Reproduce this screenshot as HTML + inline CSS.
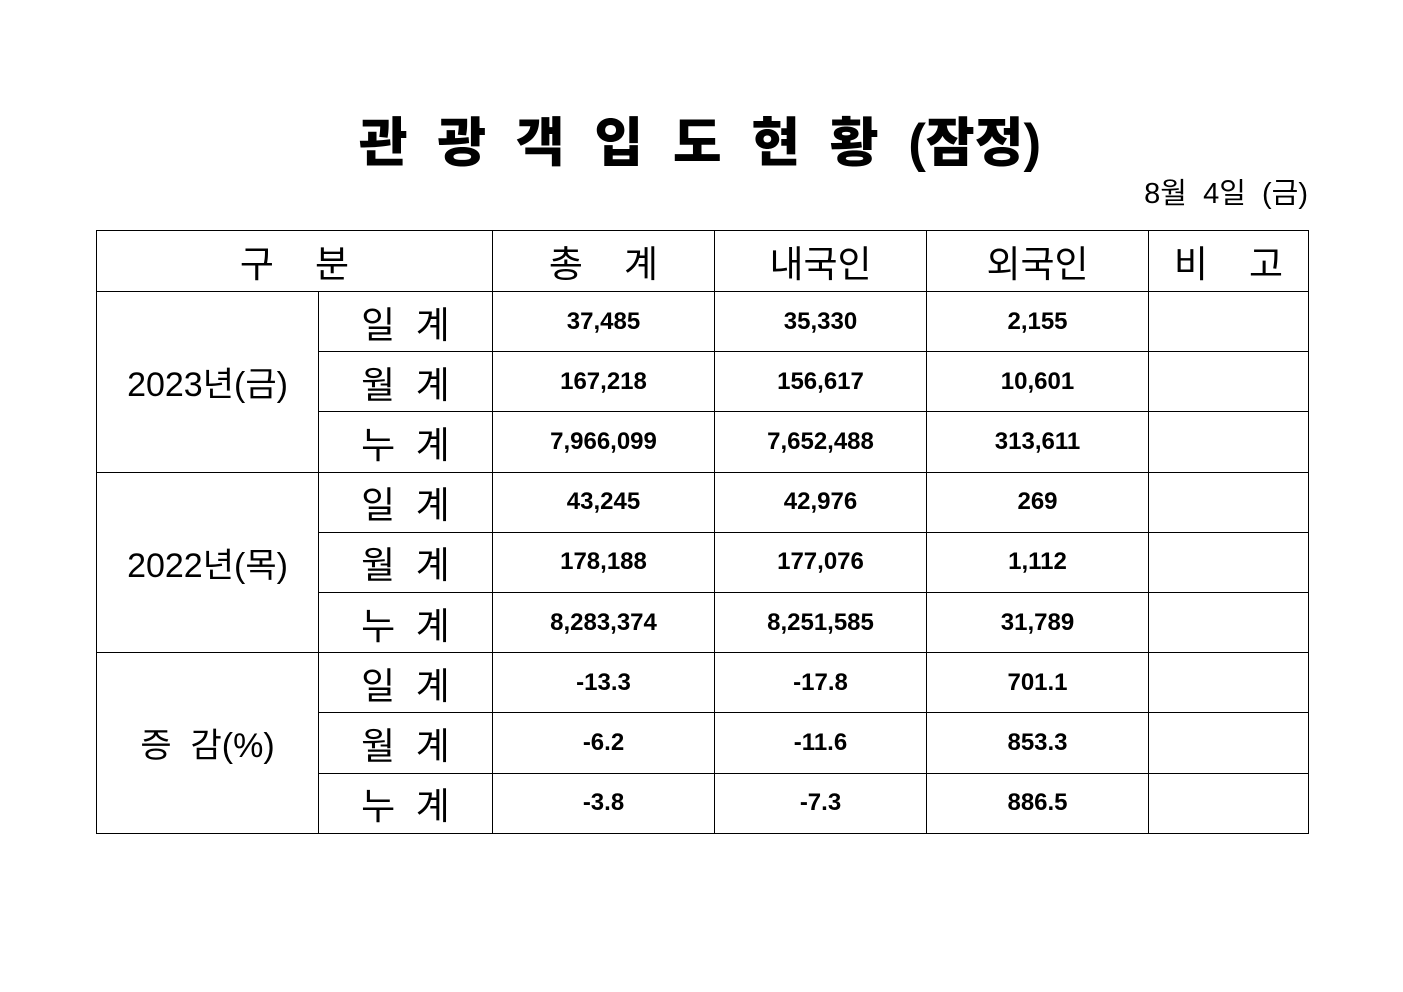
<!DOCTYPE html>
<html><head><meta charset="utf-8"><style>
body{margin:0;width:1403px;height:992px;background:#fff;position:relative;font-family:"Liberation Sans","Noto Sans CJK KR",sans-serif;color:#000;overflow:hidden}
.title{position:absolute;left:300px;width:800px;top:112px;text-align:center;font-size:53px;font-weight:900;line-height:64px;white-space:pre;word-spacing:15px}
.date{position:absolute;right:95px;top:177px;font-size:29px;line-height:34px;white-space:pre}
table{position:absolute;left:96px;top:230px;border-collapse:collapse;table-layout:fixed}
td{border:1.3px solid #000;text-align:center;padding:0;height:59.2px;white-space:pre}
.h{font-size:37px}
.l{font-size:37px}
.y{font-size:34px}
.n{font-size:24px;font-weight:bold}
</style></head><body>
<div class="title">관 광 객 입 도 현 황 (잠정)</div>
<div class="date">8월  4일  (금)</div>
<table>
<colgroup><col style="width:222px"><col style="width:174px"><col style="width:222px"><col style="width:212px"><col style="width:222px"><col style="width:160px"></colgroup>
<tr><td class="h" colspan="2" style="height:60px">구    분</td><td class="h">총    계</td><td class="h">내국인</td><td class="h">외국인</td><td class="h">비    고</td></tr>
<tr><td class="y" rowspan="3">2023년(금)</td><td class="l">일  계</td><td class="n">37,485</td><td class="n">35,330</td><td class="n">2,155</td><td></td></tr>
<tr><td class="l">월  계</td><td class="n">167,218</td><td class="n">156,617</td><td class="n">10,601</td><td></td></tr>
<tr><td class="l">누  계</td><td class="n">7,966,099</td><td class="n">7,652,488</td><td class="n">313,611</td><td></td></tr>
<tr><td class="y" rowspan="3">2022년(목)</td><td class="l">일  계</td><td class="n">43,245</td><td class="n">42,976</td><td class="n">269</td><td></td></tr>
<tr><td class="l">월  계</td><td class="n">178,188</td><td class="n">177,076</td><td class="n">1,112</td><td></td></tr>
<tr><td class="l">누  계</td><td class="n">8,283,374</td><td class="n">8,251,585</td><td class="n">31,789</td><td></td></tr>
<tr><td class="y" rowspan="3">증  감(%)</td><td class="l">일  계</td><td class="n">-13.3</td><td class="n">-17.8</td><td class="n">701.1</td><td></td></tr>
<tr><td class="l">월  계</td><td class="n">-6.2</td><td class="n">-11.6</td><td class="n">853.3</td><td></td></tr>
<tr><td class="l">누  계</td><td class="n">-3.8</td><td class="n">-7.3</td><td class="n">886.5</td><td></td></tr>
</table>
</body></html>
